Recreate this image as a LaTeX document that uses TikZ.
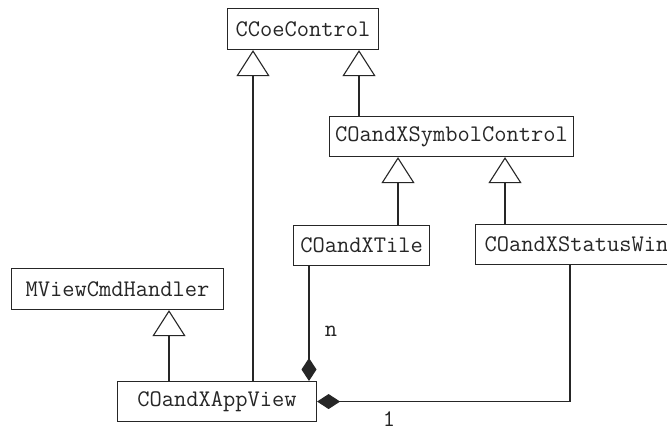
\documentclass[tikz,border=0pt]{standalone}
\usepackage{fontspec}
\usetikzlibrary{arrows.meta}
\begin{document}
\begin{tikzpicture}[x=1pt,y=-1pt,
  cls/.style={draw=black!85, line width=1.1pt, fill=white, inner sep=0pt, anchor=north west,
    font=\ttfamily\fontsize{23.8}{28}\selectfont, text=black!85},
  gen/.style={draw=black!85, line width=1.1pt, -{Triangle[open, length=26pt, width=33pt, line width=1.1pt, fill=white]}},
  comp/.style={draw=black!85, line width=1.1pt, -{Diamond[length=23pt, width=15pt, fill=black!85]}},
  lbl/.style={font=\ttfamily\fontsize{23.8}{28}\selectfont, text=black!85, inner sep=0pt}]
\useasboundingbox (0,0) rectangle (667,429);
\clip (0,0) rectangle (667,429);
\fill[white] (0,0) rectangle (667,429);
% classes
\node[cls, minimum width=151pt, minimum height=41pt] (cc) at (227,8) {CCoeControl};
\node[cls, minimum width=244pt, minimum height=40pt] (sc) at (329,116) {COandXSymbolControl};
\node[cls, minimum width=136pt, minimum height=40pt] (tile) at (293,225) {COandXTile};
\node[cls, minimum width=202pt, minimum height=40pt] (sw) at (475,224) {COandXStatusWin};
\node[cls, minimum width=212pt, minimum height=41pt] (mv) at (11,268) {MViewCmdHandler};
\node[cls, minimum width=199pt, minimum height=40pt] (av) at (117,381) {COandXAppView};
% x positions of connectors
\coordinate (xa) at (253,0);
\coordinate (xb) at (359,0);
\coordinate (xc) at (398,0);
\coordinate (xd) at (505,0);
\coordinate (xe) at (169,0);
\coordinate (xf) at (309,0);
\coordinate (xg) at (570,0);
% generalizations
\draw[gen] (av.north -| xa) -- (cc.south -| xa);
\draw[gen] (sc.north -| xb) -- (cc.south -| xb);
\draw[gen] (tile.north -| xc) -- (sc.south -| xc);
\draw[gen] (sw.north -| xd) -- (sc.south -| xd);
\draw[gen] (av.north -| xe) -- (mv.south -| xe);
% compositions
\draw[comp] (tile.south -| xf) -- (av.north -| xf);
\draw[comp] (sw.south -| xg) |- (av.east);
% multiplicities
\node[lbl] (ln) at (331,331) {n};
\node[lbl] (l1) at (389,419) {1};
\end{tikzpicture}
\end{document}
